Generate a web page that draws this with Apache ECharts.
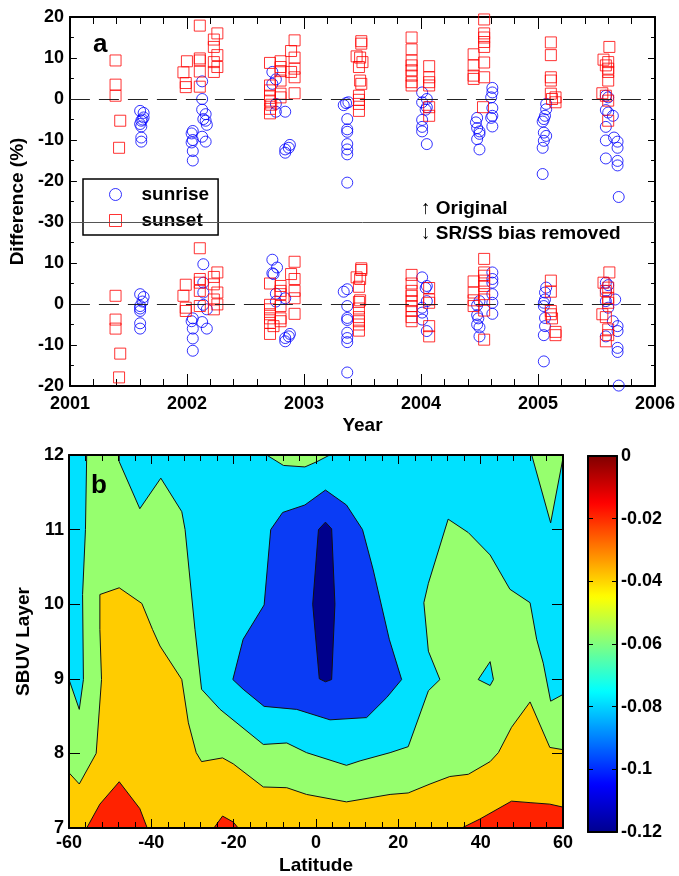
<!DOCTYPE html>
<html>
<head>
<meta charset="utf-8">
<script src="https://cdn.jsdelivr.net/npm/echarts@6/dist/echarts.min.js"></script>
<style>
html,body{margin:0;padding:0;background:#fff;}
#main{width:679px;height:876px;}
</style>
</head>
<body>
<div id="main"></div>
<script>
// panel a: [year, difference %]
var sunriseOrig = [
  [2001.60,-2.9],[2001.63,-3.4],[2001.63,-4.5],[2001.61,-5.3],[2001.62,-5.0],[2001.60,-6.1],[2001.61,-6.7],[2001.61,-9.4],[2001.61,-10.4],
  [2002.05,-7.8],[2002.04,-8.4],[2002.05,-10.0],[2002.04,-10.6],[2002.05,-12.7],[2002.05,-15.0],
  [2002.13,4.3],[2002.13,0],[2002.13,-2.6],[2002.16,-3.7],[2002.14,-4.9],[2002.16,-5.3],[2002.17,-6.3],[2002.13,-9.2],[2002.16,-10.4],
  [2002.73,6.6],[2002.73,3.7],[2002.76,4.8],[2002.76,-1.2],[2002.76,-3.1],[2002.84,-3.1],[2002.84,-12.3],[2002.84,-13.1],[2002.88,-11.2],[2002.87,-11.9],
  [2003.34,-1.5],[2003.38,-0.8],[2003.36,-1.0],[2003.37,-4.9],[2003.37,-7.4],[2003.37,-8.0],[2003.37,-11.0],[2003.37,-12.3],[2003.37,-13.5],[2003.37,-20.4],
  [2004.01,1.6],[2004.01,-0.8],[2004.01,-5.1],[2004.01,-6.8],[2004.01,-7.9],[2004.05,0],[2004.05,-2.0],[2004.04,-2.6],[2004.05,-11.0],
  [2004.48,-4.6],[2004.47,-5.7],[2004.48,-7.1],[2004.50,-7.9],[2004.50,-8.5],[2004.48,-9.8],[2004.50,-12.3],
  [2004.61,2.7],[2004.61,1.6],[2004.60,0.4],[2004.61,-2.2],[2004.61,-4.1],[2004.60,-4.6],[2004.61,-6.7],
  [2005.07,-1.2],[2005.07,-2.5],[2005.06,-4.1],[2005.05,-4.9],[2005.04,-5.5],[2005.05,-8.2],[2005.07,-9.0],[2005.05,-10.2],[2005.04,-11.9],[2005.04,-18.3],
  [2005.58,0.8],[2005.60,0.4],[2005.58,-2.7],[2005.60,-3.3],[2005.58,-6.8],[2005.58,-10.1],[2005.58,-14.5],
  [2005.64,-4.1],[2005.65,-9.4],[2005.68,-10.4],[2005.68,-11.9],[2005.68,-15.1],[2005.68,-16.2],[2005.69,-23.9]
];
var sunsetOrig = [
  [2001.39,9.4],[2001.39,3.5],[2001.39,0.8],[2001.43,-5.3],[2001.42,-11.9],
  [2001.97,6.5],[2002.00,9.2],[2001.99,3.9],[2001.99,2.9],
  [2002.11,17.9],[2002.11,9.9],[2002.11,9.4],[2002.11,6.7],[2002.11,3.0],
  [2002.26,16.0],[2002.23,14.5],[2002.23,12.7],[2002.26,10.7],[2002.23,9.0],[2002.26,7.8],[2002.23,6.6],
  [2002.71,8.8],[2002.71,3.3],[2002.71,2.1],[2002.71,0.8],[2002.71,-0.4],[2002.72,-1.4],[2002.71,-2.4],[2002.71,-3.5],
  [2002.80,9.2],[2002.80,7.8],[2002.80,6.8],[2002.80,4.5],[2002.80,1.3],[2002.80,0.4],
  [2002.92,14.3],[2002.89,11.7],[2002.92,10.1],[2002.92,7.4],[2002.89,6.6],[2002.92,5.3],[2002.92,1.4],
  [2003.49,14.1],[2003.49,13.5],[2003.45,10.4],[2003.48,10.1],[2003.50,9.0],[2003.47,7.8],[2003.48,4.5],[2003.49,3.7],[2003.47,0.8],[2003.47,-0.2],[2003.47,-1.2],[2003.47,-2.9],
  [2003.92,15.0],[2003.92,12.1],[2003.92,9.4],[2003.92,8.2],[2003.92,7.0],[2003.92,5.7],[2003.92,4.1],[2003.92,3.3],
  [2004.07,8.0],[2004.07,5.3],[2004.07,4.1],[2004.07,3.3],[2004.07,-2.0],[2004.07,-4.1],
  [2004.45,10.9],[2004.45,8.2],[2004.45,5.7],[2004.45,4.9],
  [2004.54,19.4],[2004.54,16.0],[2004.54,15.0],[2004.54,13.9],[2004.54,12.7],[2004.54,8.9],[2004.54,5.3],[2004.53,-2.0],
  [2005.11,13.8],[2005.11,10.7],[2005.11,5.3],[2005.11,4.5],[2005.11,1.3],[2005.12,0],[2005.15,0.4],[2005.15,-0.8],
  [2005.61,12.7],[2005.56,9.6],[2005.60,9.0],[2005.58,8.2],[2005.60,7.4],[2005.60,6.6],[2005.60,4.5],[2005.55,1.4],[2005.58,0.8],[2005.60,-0.4],[2005.60,-5.3]
];
var sunriseFixed = [
  [2001.60,2.4],[2001.63,1.7],[2001.62,0.6],[2001.60,-0.5],[2001.60,-1.1],[2001.60,-1.7],[2001.60,-4.7],[2001.60,-6.0],
  [2002.05,-3.5],[2002.04,-4.2],[2002.05,-6.0],[2002.05,-8.4],[2002.05,-11.4],
  [2002.14,9.7],[2002.14,5.2],[2002.14,2.8],[2002.14,-0.2],[2002.17,-1.3],[2002.13,-4.4],[2002.17,-6.0],
  [2002.73,10.8],[2002.73,7.5],[2002.74,7.3],[2002.77,8.9],[2002.76,2.5],[2002.76,0.6],[2002.84,1.4],[2002.84,-8.3],[2002.84,-9.1],[2002.88,-7.3],[2002.87,-7.9],
  [2003.34,3.0],[2003.37,3.6],[2003.37,-0.5],[2003.37,-3.4],[2003.37,-3.9],[2003.37,-7.0],[2003.37,-8.3],[2003.37,-9.3],[2003.37,-16.7],
  [2004.01,6.5],[2004.01,-0.9],[2004.01,-2.1],[2004.01,-3.8],[2004.05,4.4],[2004.04,3.9],[2004.05,0.7],[2004.05,-6.6],
  [2004.50,0.7],[2004.48,-0.3],[2004.48,-2.7],[2004.49,-3.5],[2004.48,-5.0],[2004.50,-5.7],[2004.50,-7.9],
  [2004.61,7.7],[2004.61,6.1],[2004.61,5.2],[2004.61,2.4],[2004.61,0.3],[2004.61,-2.4],
  [2005.07,4.0],[2005.06,2.8],[2005.06,1.1],[2005.05,0.3],[2005.05,-0.5],[2005.06,-3.4],[2005.06,-5.4],[2005.05,-7.6],[2005.05,-14.0],
  [2005.58,5.2],[2005.60,4.6],[2005.58,3.2],[2005.58,0.7],[2005.60,-0.9],[2005.58,-7.9],
  [2005.66,1.1],[2005.64,-4.2],[2005.68,-5.4],[2005.68,-6.6],[2005.68,-10.7],[2005.68,-11.7],[2005.69,-19.9]
];
var sunsetFixed = [
  [2001.39,2.0],[2001.39,-3.8],[2001.39,-6.0],[2001.43,-12.1],[2001.42,-17.9],
  [2001.99,4.7],[2001.97,2.0],[2001.99,-0.9],[2001.99,-1.7],
  [2002.11,13.6],[2002.11,6.1],[2002.11,5.2],[2002.11,3.2],[2002.11,-0.5],
  [2002.26,7.7],[2002.23,6.6],[2002.23,4.8],[2002.26,2.8],[2002.23,1.1],[2002.26,-0.1],[2002.23,-1.3],
  [2002.71,5.0],[2002.71,-0.2],[2002.71,-1.3],[2002.71,-2.5],[2002.71,-3.5],[2002.71,-4.6],[2002.74,-5.4],[2002.71,-7.3],
  [2002.80,4.4],[2002.80,3.2],[2002.80,2.4],[2002.80,-0.5],[2002.80,-3.5],[2002.80,-4.2],
  [2002.92,10.3],[2002.89,7.3],[2002.92,6.1],[2002.92,3.2],[2002.92,1.4],[2002.92,-2.4],
  [2003.49,8.7],[2003.49,8.3],[2003.45,6.5],[2003.48,6.1],[2003.47,4.2],[2003.48,0.9],[2003.47,0.5],[2003.47,-1.1],[2003.47,-3.2],[2003.47,-4.2],[2003.47,-5.0],[2003.47,-6.5],
  [2003.92,7.1],[2003.92,5.0],[2003.92,3.2],[2003.92,2.0],[2003.92,0.7],[2003.92,-0.5],[2003.92,-1.7],[2003.92,-3.2],[2003.92,-4.2],
  [2004.07,3.9],[2004.07,1.1],[2004.07,0.3],[2004.07,-5.4],[2004.07,-7.9],
  [2004.45,5.5],[2004.45,2.8],[2004.45,0.9],[2004.45,-0.5],
  [2004.54,11.0],[2004.54,7.7],[2004.54,6.9],[2004.54,5.7],[2004.54,4.4],[2004.54,2.4],[2004.54,1.1],[2004.54,-1.6],[2004.54,-8.7],
  [2005.11,5.7],[2005.11,3.0],[2005.11,-1.7],[2005.11,-2.5],[2005.12,-3.5],[2005.15,-6.8],[2005.15,-7.6],
  [2005.61,7.7],[2005.56,5.2],[2005.60,4.0],[2005.58,3.2],[2005.60,1.5],[2005.60,0.3],[2005.55,-2.5],[2005.58,-3.2],[2005.60,-6.2],[2005.60,-7.6],[2005.58,-9.1]
];
var lowerOffset = -50;   // bias-removed set is drawn 50% lower on the same axis

// panel b: contour bands as [latitude, layer] outlines
var bandBase = [[-60,7],[60,7],[60,12],[-60,12]];
var bandGreen = [
  [-55.7,12],[-47.8,12],[-47.8,11.91],[-42.8,11.28],[-37.7,11.69],[-32.6,11.24],[-31.8,11.0],[-29.4,9.66],
  [-27.8,8.86],[-23.3,8.59],[-12.8,8.12],[-7.1,8.14],[-2.3,8.01],[7.4,7.84],[10.7,7.9],[18,8.01],[22.4,8.09],
  [27.3,8.84],[30.1,8.99],[27.3,9.37],[26.2,10.02],[27.3,10.28],[32.1,11.14],[37,10.96],[42.3,10.66],[47.1,10.2],
  [52,10.02],[53.6,9.53],[55.2,9.21],[57,8.7],[60,8.79],[60,7],[-60,7],[-60,8.99],[-57.5,8.59],[-56.5,8.99],
  [-56.7,10.13],[-56,11]
];
var bandGreenTop = [[-12,12],[-7.9,11.86],[-2.7,11.84],[0.2,11.91],[3.0,11.99],[4,12]];
var bandGreenCorner = [[52.4,12],[57,11.09],[59.9,11.93],[60,12]];
var bandCyanSpot = [[39.4,8.99],[42.3,9.23],[43.1,8.99],[42.3,8.91]];
var bandYellow = [
  [-60,7],[-60,7.74],[-57.5,7.59],[-53.4,8.0],[-52.1,8.99],[-52.5,9.66],[-52.5,10.13],[-47.8,10.22],[-42.3,10.01],
  [-39.7,9.66],[-37.9,9.44],[-32.6,8.99],[-31,8.41],[-29.1,8.01],[-27.8,7.89],[-22.7,7.94],[-20.1,7.86],
  [-12.8,7.55],[-7.1,7.54],[-2.3,7.45],[7.4,7.35],[18,7.45],[22.4,7.47],[27.7,7.59],[32.5,7.69],[37,7.72],
  [42.3,7.89],[44.3,8.01],[47.5,8.35],[52,8.69],[56.8,8.08],[60,8.05],[60,7]
];
var bandRedWest = [[-55.7,7],[-52.5,7.32],[-47.8,7.62],[-42.8,7.26],[-41.0,7]];
var bandRedMid = [[-24.8,7],[-22.7,7.16],[-20.1,7.08],[-18.9,7]];
var bandRedEast = [[35.4,7],[39.8,7.12],[47.5,7.36],[52,7.34],[56.8,7.32],[60,7.28],[60,7]];
var bandBlue = [
  [-20.2,8.99],[-17.7,9.53],[-12.6,9.99],[-11,11],[-8.1,11.23],[-2.7,11.33],[2.3,11.53],[7.4,11.33],[11.3,11.0],
  [13.9,10.46],[17.8,9.53],[20.8,8.99],[17.2,8.75],[12.3,8.48],[3.4,8.45],[-4.7,8.59],[-12.6,8.63],[-17.7,8.86]
];
var bandNavy = [[0.6,11.0],[2.3,11.1],[3.8,11.01],[4.6,10.0],[3.8,8.99],[2.3,8.96],[0.8,9.0],[-0.8,10.0]];

var bands = [
  {pts: bandBase, color: '#00E1FF'},
  {pts: bandGreen, color: '#96FF6E'},
  {pts: bandGreenTop, color: '#96FF6E'},
  {pts: bandGreenCorner, color: '#96FF6E'},
  {pts: bandCyanSpot, color: '#00E1FF'},
  {pts: bandYellow, color: '#FFCC00'},
  {pts: bandRedWest, color: '#FF2200'},
  {pts: bandRedMid, color: '#FF2200'},
  {pts: bandRedEast, color: '#FF2200'},
  {pts: bandBlue, color: '#0A3CF5'},
  {pts: bandNavy, color: '#00008C'}
];
var jet = ['#00008F','#0000FF','#0080FF','#00FFFF','#80FF80','#FFFF00','#FF8000','#FF0000','#800000'];

function shift(arr) {
  return arr.map(function (p) { return [p[0], p[1] + lowerOffset]; });
}

var font = 'Liberation Sans, Arial, sans-serif';
var lbl = {color: '#000', fontFamily: font, fontWeight: 'bold', fontSize: 18};
var big = {color: '#000', fontFamily: font, fontWeight: 'bold', fontSize: 19};
var frame = {onZero: false, lineStyle: {color: '#000', width: 2}};
var plain = function (v) { return String(v); };

var chart = echarts.init(document.getElementById('main'));

var option = {
  animation: false,
  backgroundColor: '#fff',
  textStyle: {fontFamily: font},
  grid: [
    {left: 69, top: 17, width: 586, height: 369},
    {left: 69, top: 455, width: 494, height: 374},
    {left: 588, top: 456, width: 29, height: 376}
  ],
  legend: {
    left: 83, top: 179, orient: 'vertical',
    backgroundColor: '#fff', borderColor: '#000', borderWidth: 1.5,
    padding: [6, 9, 5, 26], itemGap: 7, itemWidth: 12, itemHeight: 12,
    textStyle: Object.assign({padding: [0, 0, 0, 15]}, big),
    data: [
      {name: 'sunrise', icon: 'circle', itemStyle: {color: 'transparent', borderColor: '#0000FF', borderWidth: 1}},
      {name: 'sunset', icon: 'rect', itemStyle: {color: 'transparent', borderColor: '#FF0000', borderWidth: 1}}
    ]
  },
  xAxis: [
    {gridIndex: 0, type: 'value', min: 2001, max: 2006, interval: 1,
      name: 'Year', nameLocation: 'middle', nameGap: 30, nameTextStyle: big,
      axisLine: frame, axisTick: {inside: true, length: 12, lineStyle: {color: '#000'}},
      minorTick: {show: true, splitNumber: 5, length: 7, lineStyle: {color: '#000'}},
      axisLabel: Object.assign({margin: 9, formatter: plain}, lbl), splitLine: {show: false}},
    {gridIndex: 0, type: 'value', position: 'top', min: 2001, max: 2006, interval: 1,
      axisLine: frame, axisTick: {inside: true, length: 12, lineStyle: {color: '#000'}},
      minorTick: {show: true, splitNumber: 5, length: 7, lineStyle: {color: '#000'}},
      axisLabel: {show: false}, splitLine: {show: false}},
    {gridIndex: 1, type: 'value', min: -60, max: 60, interval: 20,
      name: 'Latitude', nameLocation: 'middle', nameGap: 28, nameTextStyle: big,
      axisLine: frame, axisTick: {inside: true, length: 9, lineStyle: {color: '#000'}},
      minorTick: {show: true, splitNumber: 5, length: 6, lineStyle: {color: '#000'}},
      axisLabel: Object.assign({margin: 6}, lbl), splitLine: {show: false}, z: 5},
    {gridIndex: 1, type: 'value', position: 'top', min: -60, max: 60, interval: 20,
      axisLine: frame, axisTick: {inside: true, length: 9, lineStyle: {color: '#000'}},
      minorTick: {show: true, splitNumber: 5, length: 6, lineStyle: {color: '#000'}},
      axisLabel: {show: false}, splitLine: {show: false}, z: 5},
    {gridIndex: 2, type: 'value', min: 0, max: 1, axisLine: frame, axisTick: {show: false},
      axisLabel: {show: false}, splitLine: {show: false}, z: 10},
    {gridIndex: 2, type: 'value', position: 'top', min: 0, max: 1, axisLine: frame, axisTick: {show: false},
      axisLabel: {show: false}, splitLine: {show: false}, z: 10}
  ],
  yAxis: [
    {gridIndex: 0, type: 'value', min: -70, max: 20, interval: 10,
      name: 'Difference (%)', nameLocation: 'middle', nameGap: 41, nameTextStyle: big,
      axisLine: frame, axisTick: {inside: true, length: 7, lineStyle: {color: '#000'}},
      minorTick: {show: true, splitNumber: 2, length: 4, lineStyle: {color: '#000'}},
      axisLabel: Object.assign({margin: 6, formatter: function (v) {
        return v < -30 ? String(v - lowerOffset) : String(v);
      }}, lbl), splitLine: {show: false}},
    {gridIndex: 0, type: 'value', position: 'right', min: -70, max: 20, interval: 10,
      axisLine: frame, axisTick: {inside: true, length: 7, lineStyle: {color: '#000'}},
      minorTick: {show: true, splitNumber: 2, length: 4, lineStyle: {color: '#000'}},
      axisLabel: {show: false}, splitLine: {show: false}},
    {gridIndex: 1, type: 'value', min: 7, max: 12, interval: 1,
      name: 'SBUV Layer', nameLocation: 'middle', nameGap: 34, nameTextStyle: big,
      axisLine: frame, axisTick: {inside: true, length: 11, lineStyle: {color: '#000'}},
      axisLabel: Object.assign({margin: 5}, lbl), splitLine: {show: false}, z: 5},
    {gridIndex: 1, type: 'value', position: 'right', min: 7, max: 12, interval: 1,
      axisLine: frame, axisTick: {inside: true, length: 11, lineStyle: {color: '#000'}},
      axisLabel: {show: false}, splitLine: {show: false}, z: 5},
    {gridIndex: 2, type: 'value', min: -0.12, max: 0, interval: 0.02,
      axisLine: frame, axisTick: {inside: true, length: 5, lineStyle: {color: '#000'}},
      axisLabel: {show: false}, splitLine: {show: false}, z: 10},
    {gridIndex: 2, type: 'value', position: 'right', min: -0.12, max: 0, interval: 0.02,
      axisLine: frame, axisTick: {inside: true, length: 5, lineStyle: {color: '#000'}},
      axisLabel: Object.assign({margin: 4}, lbl), splitLine: {show: false}, z: 10}
  ],
  visualMap: {
    type: 'continuous', seriesIndex: 3, min: -0.12, max: 0,
    left: 588, top: 456, itemWidth: 29, itemHeight: 376, padding: 0,
    calculable: false, hoverLink: false,
    inRange: {color: jet}
  },
  graphic: [
    {type: 'text', left: 93, top: 32, style: {text: 'a', font: 'bold 26px ' + font, fill: '#000'}},
    {type: 'text', left: 91, top: 473, z: 100, style: {text: 'b', font: 'bold 26px ' + font, fill: '#000'}},
    {type: 'text', left: 421, top: 199, style: {text: '\u2191 Original', font: 'bold 19px ' + font, fill: '#000'}},
    {type: 'text', left: 421, top: 224, style: {text: '\u2193 SR/SS bias removed', font: 'bold 19px ' + font, fill: '#000'}}
  ],
  series: [
    {
      name: 'sunrise', type: 'scatter', xAxisIndex: 0, yAxisIndex: 0,
      symbol: 'circle', symbolSize: 11,
      itemStyle: {color: 'transparent', borderColor: '#0000FF', borderWidth: 1},
      data: sunriseOrig.concat(shift(sunriseFixed)),
      markLine: {
        silent: true, symbol: 'none', label: {show: false},
        data: [
          {yAxis: 0, lineStyle: {color: '#222', width: 1, type: [20, 9]}},
          {yAxis: lowerOffset, lineStyle: {color: '#222', width: 1, type: [20, 9]}},
          {yAxis: -30, lineStyle: {color: '#555', width: 1, type: 'solid'}}
        ]
      },
      z: 3
    },
    {
      name: 'sunset', type: 'scatter', xAxisIndex: 0, yAxisIndex: 0,
      symbol: 'rect', symbolSize: 11,
      itemStyle: {color: 'transparent', borderColor: '#FF0000', borderWidth: 1},
      data: sunsetOrig.concat(shift(sunsetFixed)),
      z: 3
    },
    {
      name: 'bands', type: 'custom', xAxisIndex: 2, yAxisIndex: 2,
      clip: true,
      data: bands.map(function (b, i) { return i; }),
      renderItem: function (params, api) {
        var b = bands[params.dataIndex];
        var pts = b.pts.map(function (p) { return api.coord(p); });
        return {type: 'polygon', shape: {points: pts},
          style: {fill: b.color, stroke: '#111', lineWidth: 1}};
      }
    },
    {name: 'scale', type: 'scatter', xAxisIndex: 4, yAxisIndex: 4, data: []}
  ]
};
chart.setOption(option);
</script>
</body>
</html>
